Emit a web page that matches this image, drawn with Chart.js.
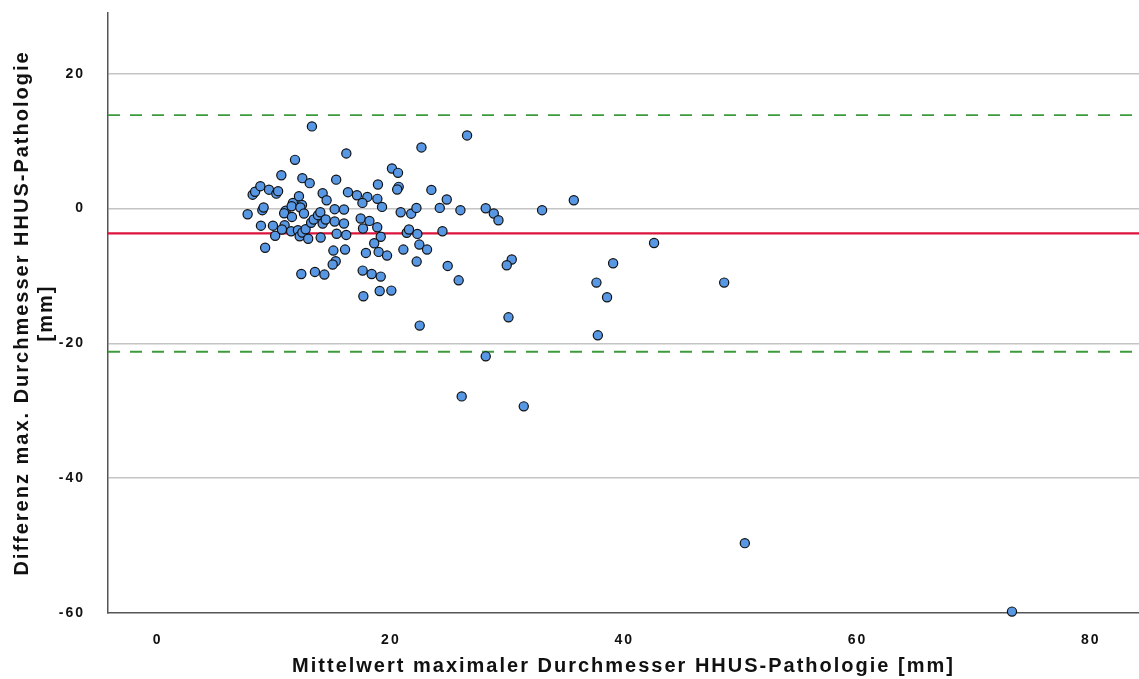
<!DOCTYPE html>
<html lang="de">
<head>
<meta charset="utf-8">
<title>Bland-Altman HHUS-Pathologie</title>
<script src="https://cdn.jsdelivr.net/npm/chart.js@4/dist/chart.umd.min.js"></script>
<style>
  html, body { margin: 0; padding: 0; background: #fff; }
  #wrap { width: 1139px; height: 679px; }
</style>
</head>
<body>
<div id="wrap"><canvas id="ba" width="1139" height="679"></canvas></div>
<script>
// Mittelwert (x) und Differenz (y) je Fall
const mittelwert = [
  7.72, 8.15, 8.36, 8.81, 8.98, 9.09, 8.86, 9.22, 9.55, 9.89,
  10.18, 10.33, 10.08, 10.61, 10.98, 10.85, 10.89, 10.66, 11.45, 11.52,
  11.60, 11.49, 11.78, 12.12, 12.38, 12.24, 12.55, 12.03, 12.18, 12.41,
  12.69, 12.91, 12.32, 12.41, 13.04, 13.23, 13.16, 13.38, 13.75, 13.95,
  13.49, 13.98, 14.15, 14.49, 14.30, 14.15, 14.41, 15.18, 15.98, 15.18,
  15.98, 15.31, 15.35, 16.17, 15.07, 16.07, 15.27, 15.01, 16.18, 16.32,
  17.09, 17.98, 17.56, 18.84, 19.24, 18.89, 17.41, 17.61, 18.16, 18.83,
  19.13, 18.57, 17.86, 18.95, 19.67, 17.58, 18.35, 19.13, 17.64, 19.04,
  20.04, 20.09, 20.61, 20.67, 20.54, 20.84, 21.74, 21.36, 21.55, 22.27,
  24.42, 21.07, 22.44, 23.10, 22.21, 24.87, 25.81, 22.47, 22.19, 22.62,
  23.47, 24.79, 24.19, 25.96, 26.53, 28.13, 28.82, 29.22, 32.96, 30.36,
  29.93, 30.08, 28.13, 26.07, 31.39, 35.68, 42.56, 39.05, 37.62, 38.53,
  48.57, 37.74, 50.34, 73.24
];
const differenz = [
  -0.85, 2.05, 2.49, 3.31, -0.25, 0.15, -2.55, -5.82, 2.79, -2.55,
  2.20, 2.57, -4.04, 4.94, -0.33, -0.70, -2.48, -3.12, -3.37, -1.25,
  0.83, 0.34, 7.22, 1.83, 0.53, 0.15, -0.74, -3.22, -4.11, -3.56,
  -3.07, -4.48, -9.71, 4.50, 3.76, 12.18, -2.11, -1.63, -0.99, -0.55,
  -9.41, -4.31, 2.27, 1.23, -9.80, -2.23, -1.63, -0.10, -0.15, -1.93,
  -2.23, 4.28, -3.74, -3.92, -6.24, -6.09, -7.82, -8.31, 8.17, 2.42,
  1.97, 1.72, 0.83, 1.43, 0.24, 3.56, -1.48, -2.97, -1.84, -2.78,
  -4.19, -5.15, -6.59, -6.44, -6.98, -9.21, -9.71, -10.10, -13.02, -12.23,
  -12.18, 5.94, 5.29, 3.21, 2.82, -0.55, -0.77, -3.59, -3.12, -3.77,
  -3.37, -6.09, -5.35, -6.09, -7.87, -8.52, -10.65, -17.37, 0.09, 9.06,
  2.76, 1.34, 0.09, -0.25, 10.84, 0.04, -0.74, -1.74, -0.25, -7.57,
  -8.42, -16.14, -21.93, -27.87, -29.35, 1.23, -5.11, -8.12, -10.99, -13.17,
  -10.99, -18.81, -49.64, -59.79
];

// Mittlere Differenz und Übereinstimmungsgrenzen
const mittlereDifferenz = -3.7;
const obereGrenze = 13.85;
const untereGrenze = -21.25;

// Achsen
const xBereich = [-4.25, 84.13];
const yBereich = [-60, 29.0];
const xTicks = [0, 20, 40, 60, 80];
const yTicks = [-60, -40, -20, 0, 20];

const punkte = mittelwert.map((m, i) => ({ x: m, y: differenz[i] }));
const linie = (y) => [{ x: xBereich[0], y: y }, { x: xBereich[1], y: y }];

const schrift = '"Liberation Sans", Arial, sans-serif';

// gesperrte Schrift wie im SPSS-Original
const sperrung = {
  id: 'sperrung',
  beforeLayout(chart) { chart.ctx.letterSpacing = '2px'; },
  beforeDraw(chart) { chart.ctx.letterSpacing = '2px'; }
};

const ctx = document.getElementById('ba').getContext('2d');

new Chart(ctx, {
  type: 'scatter',
  data: {
    datasets: [
      {
        label: 'Fälle',
        data: punkte,
        backgroundColor: '#5797e3',
        borderColor: '#111',
        borderWidth: 1.2,
        pointRadius: 4.6,
        clip: false,
        order: 0
      },
      {
        type: 'line',
        label: 'Mittelwert',
        data: linie(mittlereDifferenz),
        borderColor: '#dc143c',
        borderWidth: 2.2,
        pointRadius: 0,
        order: 1
      },
      {
        type: 'line',
        label: 'obere Grenze',
        data: linie(obereGrenze),
        borderColor: '#3d9a3d',
        borderWidth: 1.8,
        borderDash: [12, 10],
        pointRadius: 0,
        order: 2
      },
      {
        type: 'line',
        label: 'untere Grenze',
        data: linie(untereGrenze),
        borderColor: '#3d9a3d',
        borderWidth: 1.8,
        borderDash: [12, 10],
        pointRadius: 0,
        order: 2
      }
    ]
  },
  plugins: [sperrung],
  options: {
    responsive: false,
    animation: false,
    layout: { autoPadding: false, padding: { top: 13, right: 0, bottom: 0, left: 0 } },
    plugins: {
      legend: { display: false },
      tooltip: { enabled: false }
    },
    scales: {
      x: {
        type: 'linear',
        min: xBereich[0],
        max: xBereich[1],
        afterBuildTicks: (s) => { s.ticks = xTicks.map(v => ({ value: v })); },
        afterFit: (s) => { s.height = 66; s.paddingLeft = 0; s.paddingRight = 0; },
        grid: { drawOnChartArea: false, drawTicks: false },
        border: { display: true, color: '#555', width: 1.5 },
        ticks: {
          padding: 19,
          color: '#111',
          font: { family: schrift, size: 14, weight: 'bold' }
        },
        title: {
          display: true,
          text: 'Mittelwert maximaler Durchmesser HHUS-Pathologie [mm]',
          color: '#111',
          font: { family: schrift, size: 20, weight: 'bold' },
          padding: { top: 0, bottom: 1 }
        }
      },
      y: {
        type: 'linear',
        min: yBereich[0],
        max: yBereich[1],
        afterBuildTicks: (s) => { s.ticks = yTicks.map(v => ({ value: v })); },
        afterFit: (s) => { s.width = 108; s.paddingTop = 0; s.paddingBottom = 0; },
        grid: {
          drawTicks: false,
          color: (c) => (c.tick && c.tick.value === -60) ? 'rgba(0,0,0,0)' : '#c4c4c4',
          lineWidth: 1.5
        },
        border: { display: true, color: '#555', width: 1.5 },
        ticks: {
          padding: 23,
          color: '#111',
          font: { family: schrift, size: 14, weight: 'bold' }
        },
        title: {
          display: true,
          text: ['Differenz max. Durchmesser HHUS-Pathologie', '[mm]'],
          color: '#111',
          font: { family: schrift, size: 20, weight: 'bold' },
          padding: { top: 10, bottom: 0 }
        }
      }
    }
  }
});
</script>
</body>
</html>
